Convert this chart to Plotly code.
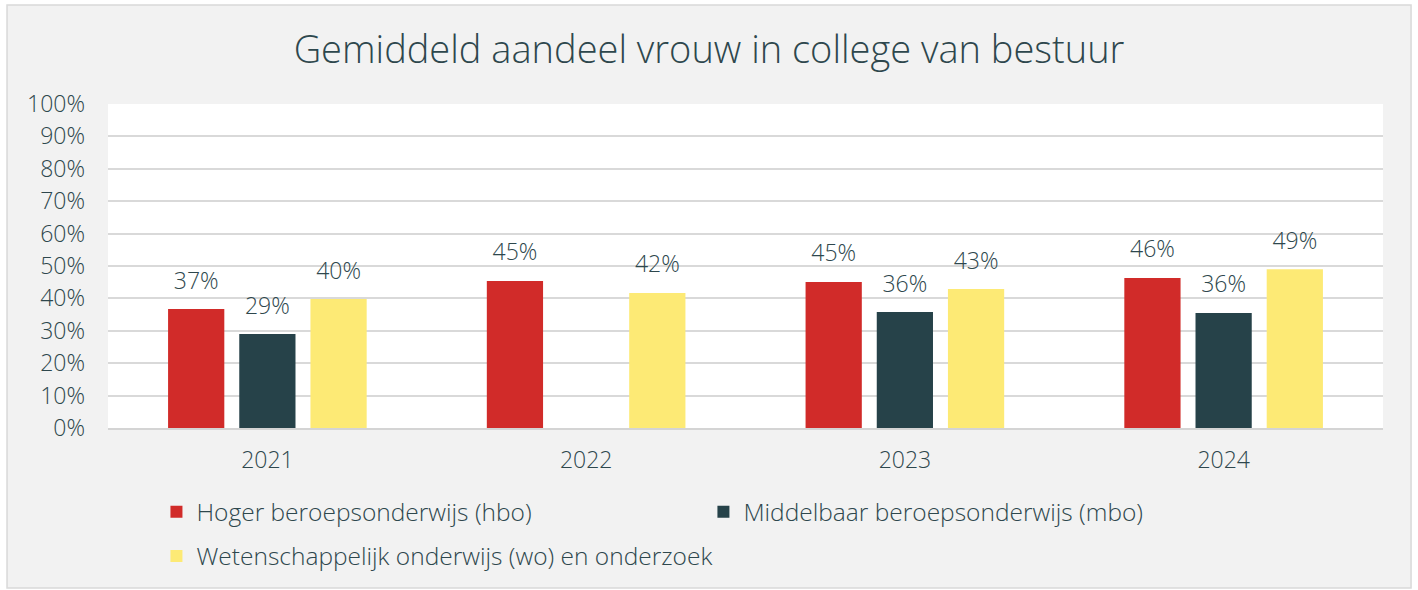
import plotly.graph_objects as go

years = ["2021", "2022", "2023", "2024"]
hbo = [0.367, 0.454, 0.451, 0.463]
mbo = [0.290, None, 0.358, 0.355]
wo = [0.398, 0.417, 0.429, 0.490]

names = ["Hoger beroepsonderwijs (hbo)",
         "Middelbaar beroepsonderwijs (mbo)",
         "Wetenschappelijk onderwijs (wo) en onderzoek"]
colors = ["#d12b29", "#264249", "#fdea75"]
text_col = "#2e474d"
font_fam = "'Open Sans', Lato, sans-serif"

fig = go.Figure()
legends = ["legend", "legend2", "legend3"]
for vals, name, col, lg in zip([hbo, mbo, wo], names, colors, legends):
    fig.add_trace(go.Bar(
        x=years, y=vals, name=name, legend=lg,
        marker=dict(color=col, line=dict(width=0)),
    ))

# value labels, grouped like the bars so they sit above each bar
for vals, name in zip([hbo, mbo, wo], names):
    fig.add_trace(go.Scatter(
        x=years, y=vals, mode="markers+text", showlegend=False,
        marker=dict(size=22, opacity=0),
        texttemplate="%{y:.0%}", textposition="top center",
        textfont=dict(size=23, color=text_col, family=font_fam, weight=300),
        cliponaxis=False, hoverinfo="skip",
    ))

# outer panel and white plot area
fig.add_shape(type="rect", xref="paper", yref="paper",
              x0=-0.0792, x1=1.0220, y0=-0.494, y1=1.3056,
              fillcolor="#f2f2f2", line=dict(color="#d9d9d9", width=1.5),
              layer="below")
fig.add_shape(type="rect", xref="paper", yref="paper",
              x0=0, x1=1, y0=0, y1=1,
              fillcolor="white", line=dict(width=0), layer="below")

leg_common = dict(orientation="h", bgcolor="rgba(0,0,0,0)",
                  font=dict(size=24.5, color=text_col, family=font_fam, weight=300),
                  xanchor="left", yanchor="middle")

fig.update_layout(
    width=1418, height=590,
    margin=dict(l=108, r=35, t=104, b=162),
    paper_bgcolor="white", plot_bgcolor="white",
    font=dict(family=font_fam, color=text_col, weight=300),
    title=dict(text="Gemiddeld aandeel vrouw in college van bestuur",
               x=0.5, xanchor="center", xref="container",
               y=0.915, yanchor="middle",
               font=dict(size=38, color=text_col, family=font_fam, weight=300)),
    barmode="group", bargap=0.33, bargroupgap=0.21,
    scattermode="group", scattergap=0.33,
    showlegend=True,
    legend=dict(x=0.038, y=-0.259, **leg_common),
    legend2=dict(x=0.467, y=-0.259, **leg_common),
    legend3=dict(x=0.038, y=-0.395, **leg_common),
    xaxis=dict(showgrid=False, showline=True, linecolor="#d4d4d4", linewidth=2,
               ticks="", tickfont=dict(size=23, color=text_col, weight=300),
               ticklabelstandoff=10),
    yaxis=dict(range=[0, 1], dtick=0.1, tickformat=".0%",
               showgrid=True, gridcolor="#d9d9d9", gridwidth=1.5,
               zeroline=False, showline=False,
               tickfont=dict(size=23, color=text_col, weight=300),
               ticklabelstandoff=22),
)

fig.write_html("out.html", config={"displayModeBar": False},
               post_script="document.body.style.margin='0';")
